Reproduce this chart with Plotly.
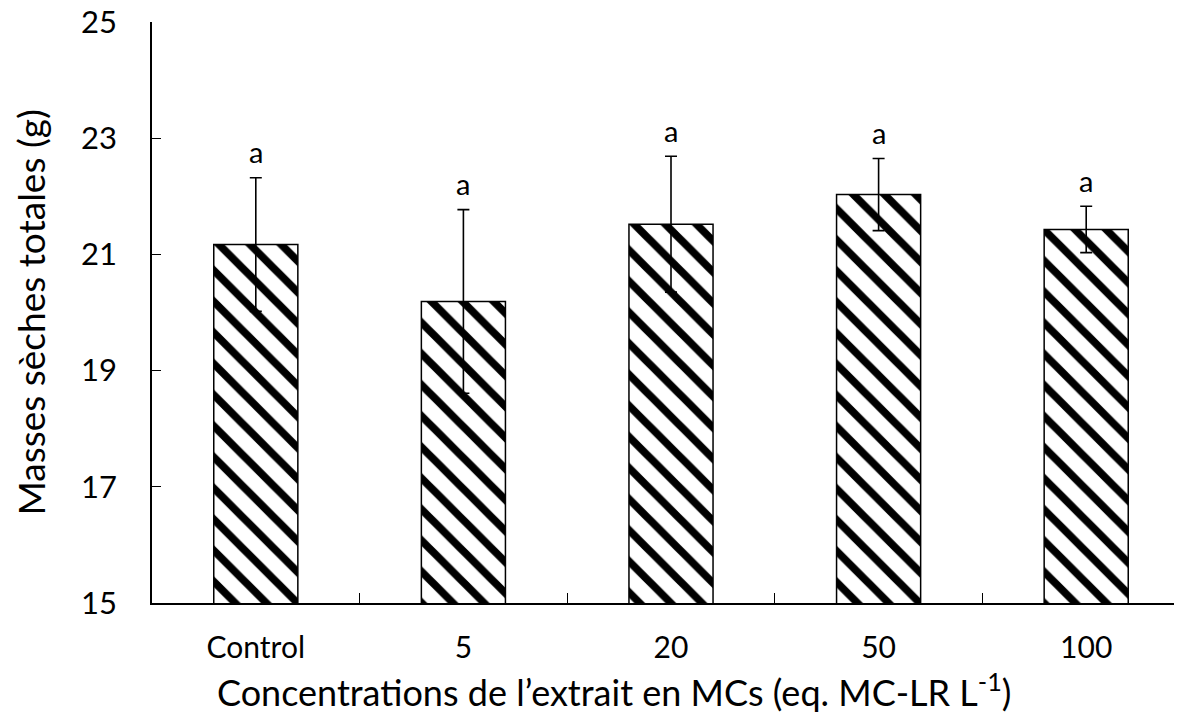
import plotly.graph_objects as go

categories = ["Control", "5", "20", "50", "100"]
means = [21.17, 20.19, 21.52, 22.03, 21.43]
errors = [1.15, 1.58, 1.17, 0.62, 0.40]
letters = ["a", "a", "a", "a", "a"]
y_ticks = [15, 17, 19, 21, 23, 25]

W, H = 1182, 715
L, T, B, R = 144, 14, 120, 0
PW = W - L - R
PH = H - T - B
OFF = 8  # page body margin

FONT = "Lato"

fig = go.Figure()
fig.add_trace(go.Bar(
    x=categories, y=means,
    width=0.405,
    marker=dict(
        color="white",
        line=dict(color="black", width=1.5),
        pattern=dict(shape="\\", size=22, solidity=0.35, fgcolor="black",
                     bgcolor="white", fgopacity=1, fillmode="replace"),
    ),
    error_y=dict(type="data", array=errors, visible=True, color="black", thickness=1.6, width=6),
    showlegend=False,
))

for i, (m, e, t) in enumerate(zip(means, errors, letters)):
    fig.add_annotation(x=i, y=m + e, text=t, showarrow=False, yshift=26,
                       font=dict(size=29, color="black", family=FONT))

# axis titles
fig.add_annotation(xref="paper", yref="paper",
                   x=(614 - L - OFF) / PW, y=-(690 - 603) / PH,
                   text="Concentrations de l\u2019extrait en MCs (eq. MC-LR L<sup>-1</sup>)",
                   showarrow=False, font=dict(size=36, color="black", family=FONT),
                   xanchor="center", yanchor="middle")
fig.add_annotation(xref="paper", yref="paper",
                   x=(30 - L - OFF) / PW, y=0.5,
                   text="Masses s\u00e8ches totales (g)", textangle=-90,
                   showarrow=False, font=dict(size=37, color="black", family=FONT),
                   xanchor="center", yanchor="middle")

fig.update_layout(
    width=W, height=H,
    margin=dict(l=L, r=R, t=T, b=B, pad=0, autoexpand=False),
    plot_bgcolor="white", paper_bgcolor="white",
    font=dict(family=FONT, color="black"),
    xaxis=dict(
        type="category",
        range=[-0.5, 4.5],
        automargin=False,
        showline=True, linecolor="black", linewidth=1.5,
        ticks="inside", ticklen=10, tickwidth=1.3, tickcolor="black",
        tickson="boundaries",
        showgrid=False, zeroline=False,
        tickfont=dict(size=30, family=FONT),
        ticklabelstandoff=17,
        ticklabeloverflow="allow",
    ),
    yaxis=dict(
        range=[15, 25],
        automargin=False,
        tickvals=y_ticks, ticktext=[str(v) for v in y_ticks],
        showline=True, linecolor="black", linewidth=1.5,
        ticks="inside", ticklen=9, tickwidth=1.3, tickcolor="black",
        showgrid=False, zeroline=False,
        tickfont=dict(size=31, family=FONT),
        ticklabelstandoff=27,
        ticklabeloverflow="allow",
    ),
)

fig.write_html("out.html")
